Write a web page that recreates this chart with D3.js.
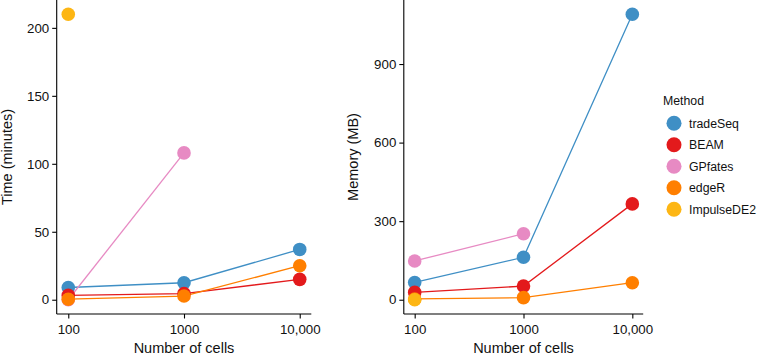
<!DOCTYPE html>
<html>
<head>
<meta charset="utf-8">
<script src="https://cdn.jsdelivr.net/npm/d3@7"></script>
<style>
  body { margin: 0; background: #fff; }
  svg { font-family: "Liberation Sans", Arial, Helvetica, sans-serif; }
</style>
</head>
<body>
<div id="chart"></div>
<script>
// data
const cells = [100, 1000, 10000];
const cellLabels = ["100", "1000", "10,000"];
const methods = ["tradeSeq", "BEAM", "GPfates", "edgeR", "ImpulseDE2"];
const methodColors = ["#3f8fc5", "#e31a1c", "#e78ac3", "#ff7f00", "#fdb614"];

// Time (minutes), null = not run
const timeTradeSeq = [9, 12.5, 37];
const timeBEAM = [3.2, 4.5, 15];
const timeGPfates = [0, 108, null];
const timeEdgeR = [0.4, 2.7, 25];
const timeImpulseDE2 = [210, null, null];
const timeTicks = [0, 50, 100, 150, 200];

// Memory (MB)
const memTradeSeq = [66, 162, 1090];
const memBEAM = [28, 52, 366];
const memGPfates = [148, 252, null];
const memEdgeR = [3, 8, 65];
const memImpulseDE2 = [0, null, null];
const memTicks = [0, 300, 600, 900];

const timeSeries = [timeTradeSeq, timeBEAM, timeGPfates, timeEdgeR, timeImpulseDE2];
const memSeries = [memTradeSeq, memBEAM, memGPfates, memEdgeR, memImpulseDE2];

const W = 757, H = 356;
const svg = d3.select("#chart").append("svg")
  .attr("width", W).attr("height", H);

const color = d3.scaleOrdinal().domain(methods).range(methodColors);

function drawPanel(series, ticks, yLabel, x0, x1, yDomain, titleX) {
  const top = 0, bottom = 314;
  const x = d3.scaleLog().domain([Math.pow(10, 1.9), Math.pow(10, 4.1)]).range([x0, x1]);
  const y = d3.scaleLinear().domain(yDomain).range([bottom, top]);

  const g = svg.append("g");

  // axes
  const xAxis = d3.axisBottom(x).tickValues(cells)
    .tickFormat((d, i) => cellLabels[i]).tickSize(4.5).tickPadding(3);
  const yAxis = d3.axisLeft(y).tickValues(ticks).tickSize(4.5).tickPadding(3);

  g.append("g").attr("transform", `translate(0,${bottom})`).call(xAxis)
    .call(a => a.select(".domain").attr("d", `M${x0},0H${x1}`))
    .selectAll("text").attr("font-size", 13.3).attr("fill", "#111").attr("dy", "0.95em");
  g.append("g").attr("transform", `translate(${x0},0)`).call(yAxis)
    .call(a => a.select(".domain").attr("d", `M0,${top}V${bottom}`))
    .selectAll("text").attr("font-size", 13.3).attr("fill", "#111");
  g.selectAll(".domain, .tick line").attr("stroke", "#000").attr("stroke-width", 1.1);

  // axis titles
  g.append("text")
    .attr("x", (x0 + x1) / 2).attr("y", 352.5)
    .attr("text-anchor", "middle").attr("font-size", 14.5).attr("fill", "#111")
    .text("Number of cells");
  g.append("text")
    .attr("transform", `translate(${titleX},${(top + bottom) / 2}) rotate(-90)`)
    .attr("text-anchor", "middle").attr("font-size", 14.5).attr("fill", "#111")
    .text(yLabel);

  const line = d3.line()
    .defined(d => d != null)
    .x((d, i) => x(cells[i]))
    .y(d => y(d));

  // lines first
  series.forEach((vals, k) => {
    g.append("path")
      .datum(vals)
      .attr("d", line)
      .attr("fill", "none")
      .attr("stroke", color(methods[k]))
      .attr("stroke-width", 1.3);
  });

  // then points
  series.forEach((vals, k) => {
    g.selectAll(null)
      .data(vals.map((v, i) => ({ v, i })).filter(d => d.v != null))
      .enter().append("circle")
      .attr("cx", d => x(cells[d.i]))
      .attr("cy", d => y(d.v))
      .attr("r", 6.8)
      .attr("fill", color(methods[k]));
  });
}

drawPanel(timeSeries, timeTicks, "Time (minutes)", 56.7, 311.3, [-10.5, 220.5], 12);
drawPanel(memSeries, memTicks, "Memory (MB)", 403.8, 643.2, [-54.5, 1144.5], 358);

// legend
const legend = svg.append("g").attr("transform", "translate(663,0)");
legend.append("text")
  .attr("x", 0).attr("y", 105)
  .attr("font-size", 12.3).attr("fill", "#111")
  .text("Method");
const item = legend.selectAll(".item")
  .data(methods)
  .enter().append("g")
  .attr("transform", (d, i) => `translate(0,${123.3 + i * 21.5})`);
item.append("circle")
  .attr("cx", 11).attr("cy", 0).attr("r", 7.5)
  .attr("fill", d => color(d));
item.append("text")
  .attr("x", 26).attr("y", 4.4)
  .attr("font-size", 12.3).attr("fill", "#111")
  .text(d => d);
</script>
</body>
</html>
